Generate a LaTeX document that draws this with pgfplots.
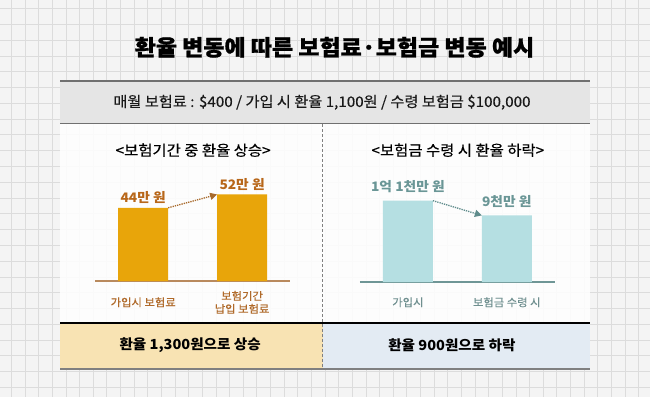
\documentclass[border=0pt]{standalone}
\usepackage{fontspec}
\setmainfont{Noto Sans CJK KR}[FakeStretch=1.05]
\usepackage{pgfplots}
\pgfplotsset{compat=1.18}
\usetikzlibrary{arrows.meta}
\definecolor{bgc}{HTML}{F4F4F4}
\definecolor{gridc}{HTML}{DCDCDC}
\definecolor{band}{HTML}{E5E5E5}
\definecolor{bandline}{HTML}{707070}
\definecolor{barL}{HTML}{E8A50A}
\definecolor{valL}{HTML}{B8671A}
\definecolor{tickL}{HTML}{B06A2A}
\definecolor{baseL}{HTML}{B98A5E}
\definecolor{arrL}{HTML}{A86A2C}
\definecolor{barR}{HTML}{B5DFE2}
\definecolor{valR}{HTML}{6A9696}
\definecolor{tickR}{HTML}{6F8F8F}
\definecolor{baseR}{HTML}{6F9696}
\definecolor{arrR}{HTML}{5F8C8C}
\definecolor{botL}{HTML}{F8E3B3}
\definecolor{botR}{HTML}{E3EBF3}
\begin{document}
\begin{tikzpicture}[x=1pt,y=-1pt]
% background with grid
\fill[bgc] (0,0) rectangle (650,397);
\foreach \i in {0,...,46} \draw[gridc, line width=0.7pt] ({11+13.65*\i},0) -- ({11+13.65*\i},397);
\foreach \j in {0,...,24} \draw[gridc, line width=0.7pt] (0,{8.2+15.8*\j}) -- (650,{8.2+15.8*\j});
% title
\node[font=\fontsize{21.9}{24}\selectfont\bfseries\addfontfeatures{FakeBold=1}, text=black] at (334.5,47) {환율 변동에 따른 보험료·보험금 변동 예시};
% white panel
\fill[white, opacity=0.88] (60,123) rectangle (590,323);
% gray band
\fill[band] (60,81) rectangle (590,123);
\draw[bandline, line width=2pt] (60,81) -- (590,81);
\draw[bandline, line width=1.2pt] (60,123) -- (590,123);
\node[font=\fontsize{14.5}{17}\selectfont\addfontfeatures{FakeBold=0.4}, text=black!90] at (322,102) {매월 보험료 : \$400 / 가입 시 환율 1,100원 / 수령 보험금 \$100,000};
% bottom bands
\fill[botL] (60,323) rectangle (322.5,369);
\fill[botR] (322.5,323) rectangle (590,369);
\draw[black, line width=1.2pt] (60,323) -- (590,323);
\draw[gray, line width=2pt] (60,369) -- (590,369);
\draw[gray, line width=0.6pt, densely dashed] (322.5,124) -- (322.5,368);
\node[font=\fontsize{13.9}{17}\selectfont\bfseries, text=black] at (190,345) {환율 1,300원으로 상승};
\node[font=\fontsize{13.9}{17}\selectfont\bfseries, text=black] at (452,345) {환율 900원으로 하락};
% subtitles
\node[font=\fontsize{14.7}{17}\selectfont\addfontfeatures{FakeBold=0.4}, text=black] at (193,150) {<보험기간 중 환율 상승>};
\node[font=\fontsize{14.7}{17}\selectfont\addfontfeatures{FakeBold=0.4}, text=black] at (458,150) {<보험금 수령 시 환율 하락>};
% left chart
\begin{axis}[
  at={(95pt,-281pt)}, anchor=south west,
  scale only axis, width=195pt, height=100pt,
  xmin=-0.485, xmax=1.485, ymin=0, ymax=60,
  axis x line*=bottom, axis y line=none,
  x axis line style={draw=baseL, line width=1.2pt, -},
  xtick={0,1}, xticklabels={가입시 보험료,{보험기간\\납입 보험료}},
  ytick=\empty,
  xtick style={draw=none},
  xticklabel style={font=\fontsize{10.8}{13}\selectfont\addfontfeatures{FakeBold=0.3}, text=tickL, align=center, anchor=center, yshift=-17pt},
  ybar, bar width=50pt,
  point meta=explicit symbolic,
  nodes near coords,
  nodes near coords style={font=\fontsize{13.1}{15}\selectfont\bfseries, text=valL, anchor=south, yshift=0.5pt},
  clip=false,
]
\addplot[fill=barL, draw=none] coordinates {(0,44) [44만 원] (1,52) [52만 원]};
\draw[arrL, line width=1.3pt, densely dotted, -{Triangle[length=7pt,width=7pt]}] (axis cs:0.2525,44) -- (axis cs:0.7475,52);
\end{axis}
% right chart
\begin{axis}[
  at={(360pt,-282pt)}, anchor=south west,
  scale only axis, width=195pt, height=100pt,
  xmin=-0.485, xmax=1.485, ymin=0, ymax=13500,
  axis x line*=bottom, axis y line=none,
  x axis line style={draw=baseR, line width=1.2pt, -},
  xtick={0,1}, xticklabels={가입시,보험금 수령 시},
  ytick=\empty,
  xtick style={draw=none},
  xticklabel style={font=\fontsize{10.8}{13}\selectfont\addfontfeatures{FakeBold=0.3}, text=tickR, align=center, anchor=center, yshift=-16pt},
  ybar, bar width=50pt,
  point meta=explicit symbolic,
  nodes near coords,
  nodes near coords style={font=\fontsize{13.1}{15}\selectfont\bfseries, text=valR, anchor=south, yshift=4.5pt},
  clip=false,
]
\addplot[fill=barR, draw=none] coordinates {(0,11000) [1억 1천만 원] (1,9000) [9천만 원]};
\draw[arrR, line width=1.3pt, densely dotted, -{Triangle[length=7pt,width=7pt]}] (axis cs:0.2525,11000) -- (axis cs:0.7475,9000);
\end{axis}
\end{tikzpicture}
\end{document}
